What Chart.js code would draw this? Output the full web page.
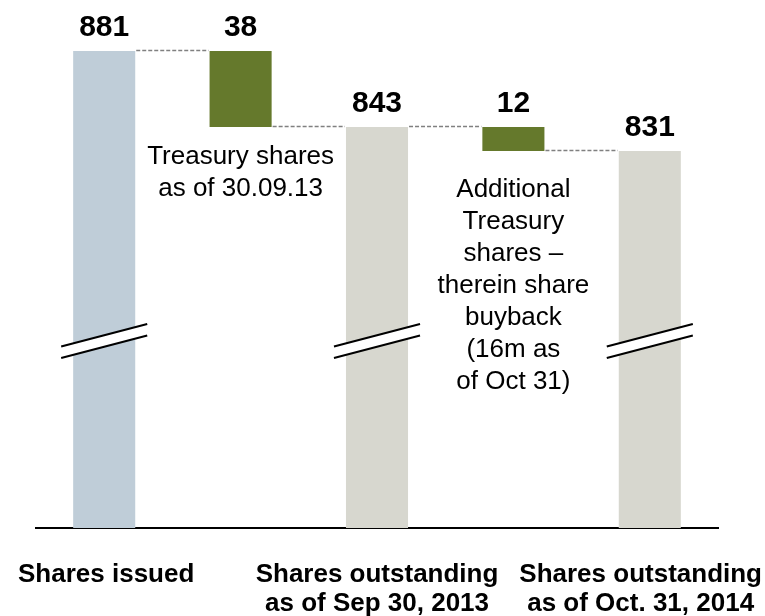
<!DOCTYPE html>
<html>
<head>
<meta charset="utf-8">
<script src="https://cdn.jsdelivr.net/npm/chart.js@4.4.1/dist/chart.umd.min.js"></script>
<style>
  html, body { margin: 0; padding: 0; background: #fff; }
</style>
</head>
<body>
<canvas id="waterfall" width="765" height="616"></canvas>
<script>
// chart data
var categories = [
    ['Shares issued'],
    [],
    ['Shares outstanding', 'as of Sep 30, 2013'],
    [],
    ['Shares outstanding', 'as of Oct. 31, 2014']
];
var values = [881, 38, 843, 12, 831];
var kinds = ['total', 'decrease', 'total', 'decrease', 'total'];
var notes = [
    [],
    ['Treasury shares', 'as of 30.09.13'],
    [],
    ['Additional', 'Treasury', 'shares –', 'therein share', 'buyback', '(16m as', 'of Oct 31)'],
    []
];
var barColors = ['#BFCDD8', '#65792C', '#D7D7CF', '#65792C', '#D7D7CF'];

// broken axis: the scale starts well above zero
var AXIS_MIN = 642.5;
var AXIS_MAX = 900;
var BREAK_VALUE = 736;

// floating bars + running level after each step
var bars = [], levels = [], level = 0;
values.forEach(function (v, i) {
    if (kinds[i] === 'total') {
        bars.push([AXIS_MIN, v]);
        level = v;
    } else {
        bars.push([level - v, level]);
        level = level - v;
    }
    levels.push(level);
});

var FONT = "'Liberation Sans', Arial, sans-serif";
var noteOffset = [0, 37, 0, 46, 0];

var waterfallDecor = {
    id: 'waterfallDecor',
    afterDatasetsDraw: function (chart) {
        var ctx = chart.ctx;
        var yScale = chart.scales.y;
        var meta = chart.getDatasetMeta(0);
        var i, b, n;

        ctx.save();

        // dashed connectors
        ctx.strokeStyle = '#808080';
        ctx.lineWidth = 1.5;
        ctx.setLineDash([4, 2]);
        for (i = 0; i < meta.data.length - 1; i++) {
            var a = meta.data[i], c = meta.data[i + 1];
            var yy = Math.round(yScale.getPixelForValue(levels[i])) - 0.5;
            ctx.beginPath();
            ctx.moveTo(a.x + a.width / 2 + 1, yy);
            ctx.lineTo(c.x - c.width / 2 - 1, yy);
            ctx.stroke();
        }
        ctx.setLineDash([]);

        // axis break marks on the total bars
        var cy = yScale.getPixelForValue(BREAK_VALUE);
        var rise = 22.5, gap = 11.5;
        for (i = 0; i < meta.data.length; i++) {
            if (kinds[i] !== 'total') continue;
            b = meta.data[i];
            var x0 = b.x - b.width / 2 - 12, x1 = b.x + b.width / 2 + 12;
            ctx.fillStyle = '#ffffff';
            ctx.beginPath();
            ctx.moveTo(x0, cy + rise / 2 - gap / 2);
            ctx.lineTo(x1, cy - rise / 2 - gap / 2);
            ctx.lineTo(x1, cy - rise / 2 + gap / 2);
            ctx.lineTo(x0, cy + rise / 2 + gap / 2);
            ctx.closePath();
            ctx.fill();
            ctx.strokeStyle = '#000000';
            ctx.lineWidth = 2;
            ctx.beginPath();
            ctx.moveTo(x0, cy + rise / 2 - gap / 2);
            ctx.lineTo(x1, cy - rise / 2 - gap / 2);
            ctx.moveTo(x0, cy + rise / 2 + gap / 2);
            ctx.lineTo(x1, cy - rise / 2 + gap / 2);
            ctx.stroke();
        }

        // value labels
        ctx.fillStyle = '#000000';
        ctx.textAlign = 'center';
        ctx.textBaseline = 'alphabetic';
        ctx.font = 'bold 30px ' + FONT;
        for (i = 0; i < meta.data.length; i++) {
            b = meta.data[i];
            ctx.fillText(String(values[i]), b.x, Math.min(b.y, b.base) - 15);
        }

        // notes under the decrease bars
        ctx.font = '26px ' + FONT;
        for (i = 0; i < notes.length; i++) {
            b = meta.data[i];
            var bottom = Math.max(b.y, b.base);
            for (n = 0; n < notes[i].length; n++) {
                ctx.fillText(notes[i][n], b.x, bottom + noteOffset[i] + n * 32);
            }
        }

        // category labels
        ctx.font = 'bold 26px ' + FONT;
        for (i = 0; i < categories.length; i++) {
            if (!categories[i].length) continue;
            b = meta.data[i];
            var w = 0;
            categories[i].forEach(function (t) { w = Math.max(w, ctx.measureText(t).width); });
            var cx = b.x;
            if (cx + w / 2 > chart.width - 3) cx = chart.width - 3 - w / 2;
            if (cx - w / 2 < 18) cx = 18 + w / 2;
            for (n = 0; n < categories[i].length; n++) {
                ctx.fillText(categories[i][n], cx, 582 + n * 28.5);
            }
        }

        ctx.restore();
    }
};

var ctx = document.getElementById('waterfall').getContext('2d');
var waterfall = new Chart(ctx, {
    type: 'bar',
    data: {
        labels: categories.map(function (c) { return c.join(' '); }),
        datasets: [{
            data: bars,
            backgroundColor: barColors,
            borderWidth: 0,
            barPercentage: 0.455,
            categoryPercentage: 1
        }]
    },
    options: {
        responsive: false,
        animation: false,
        layout: {
            padding: { left: 36, right: 47, top: 13, bottom: 88 }
        },
        plugins: {
            legend: { display: false },
            tooltip: { enabled: false }
        },
        scales: {
            x: {
                grid: { display: false, drawTicks: false },
                border: { display: true, color: '#000000', width: 2 },
                ticks: { display: false }
            },
            y: {
                display: false,
                min: AXIS_MIN,
                max: AXIS_MAX
            }
        }
    },
    plugins: [waterfallDecor]
});
</script>
</body>
</html>
